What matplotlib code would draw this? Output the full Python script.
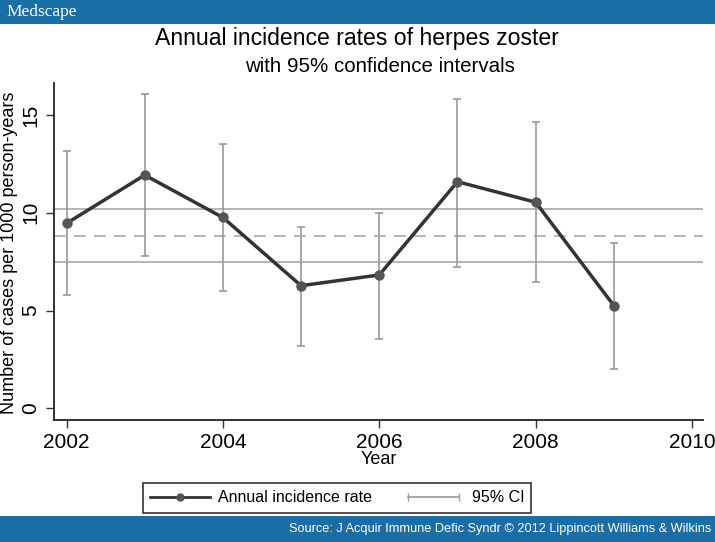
import matplotlib
matplotlib.use("Agg")
import matplotlib.pyplot as plt
from matplotlib.lines import Line2D
from matplotlib.patches import Rectangle
from matplotlib.legend_handler import HandlerLine2D

plt.rcParams['font.family'] = ['Liberation Sans', 'DejaVu Sans']

years = [2002, 2003, 2004, 2005, 2006, 2007, 2008, 2009]
rate = [9.46, 11.93, 9.76, 6.27, 6.82, 11.59, 10.54, 5.25]
ci_low = [5.79, 7.78, 6.00, 3.20, 3.56, 7.24, 6.44, 2.01]
ci_high = [13.16, 16.08, 13.52, 9.29, 10.00, 15.84, 14.64, 8.44]
overall_rate = 8.81
overall_low = 7.48
overall_high = 10.18

blue = '#1a6ea6'
dark = '#333333'
grey = '#9a9a9a'

fig = plt.figure(figsize=(7.15, 5.42), dpi=100)

# header / footer bars
fig.patches.append(Rectangle((0, 1 - 24 / 542), 1, 24 / 542, transform=fig.transFigure,
                             facecolor=blue, edgecolor='none'))
fig.patches.append(Rectangle((0, 0), 1, 26 / 542, transform=fig.transFigure,
                             facecolor=blue, edgecolor='none'))
fig.text(6 / 715, 1 - 12 / 542, 'Medscape', color='white', fontsize=12.5,
         family=['Liberation Serif', 'DejaVu Serif'], va='center', ha='left')
fig.text(711 / 715, 13 / 542,
         'Source: J Acquir Immune Defic Syndr \u00a9 2012 Lippincott Williams & Wilkins',
         color='white', fontsize=9.2, ha='right', va='center')

fig.text(357 / 715, 1 - 39 / 542, 'Annual incidence rates of herpes zoster',
         fontsize=16.6, ha='center', va='center')
fig.text(380 / 715, 1 - 66 / 542, 'with 95% confidence intervals',
         fontsize=14.8, ha='center', va='center')

ax = fig.add_axes([54 / 715, 122 / 542, 649 / 715, 337 / 542])

ax.axhline(overall_high, color='#a8a8a8', lw=1.2, zorder=1)
ax.axhline(overall_low, color='#a8a8a8', lw=1.2, zorder=1)
ax.axhline(overall_rate, color='#a8a8a8', lw=1.2, ls=(0, (7, 5)), zorder=1)

err = [[r - l for r, l in zip(rate, ci_low)], [h - r for r, h in zip(rate, ci_high)]]
ax.errorbar(years, rate, yerr=err, fmt='none', ecolor=grey, elinewidth=1.2,
            capsize=3, capthick=1.2, zorder=2)
ax.plot(years, rate, color=dark, lw=2.5, marker='o', markersize=6.5,
        markerfacecolor='#555555', markeredgecolor='#555555', zorder=3)

ax.set_xlim(2001.84, 2010.14)
ax.set_ylim(-0.6, 16.64)
ax.set_xticks([2002, 2004, 2006, 2008, 2010])
ax.set_yticks([0, 5, 10, 15])
ax.tick_params(axis='both', direction='out', length=6, width=1, labelsize=15,
               color=dark, pad=3)
ax.tick_params(axis='y', pad=4)
for lab in ax.get_yticklabels():
    lab.set_rotation(90)
    lab.set_va('center')
ax.spines['top'].set_visible(False)
ax.spines['right'].set_visible(False)
for s in ('left', 'bottom'):
    ax.spines[s].set_linewidth(1.3)
    ax.spines[s].set_color('#222222')
ax.set_xlabel('Year', fontsize=13, labelpad=0)
ax.set_ylabel('Number of cases per 1000 person-years', fontsize=13, va='center')
ax.yaxis.set_label_coords(-0.068, 0.497)

h_rate = Line2D([0], [0], color=dark, lw=2, marker='o', markersize=5,
                markerfacecolor='#555555', markeredgecolor='#555555')
h_ci = Line2D([0], [0], color=grey, lw=1.2, marker='|', markersize=6)
leg = fig.legend([h_rate, h_ci], ['Annual incidence rate', '95% CI'],
                 loc='center', bbox_to_anchor=(337 / 715, 44 / 542), ncol=2,
                 fontsize=11.5, frameon=True, fancybox=False, edgecolor='black',
                 handlelength=3.75, handletextpad=0.5, columnspacing=2,
                 borderpad=0.45, borderaxespad=0,
                 handler_map={h_rate: HandlerLine2D(numpoints=1),
                              h_ci: HandlerLine2D(numpoints=2)})
leg.get_frame().set_linewidth(1.2)

fig.savefig('out.png', dpi=100)
